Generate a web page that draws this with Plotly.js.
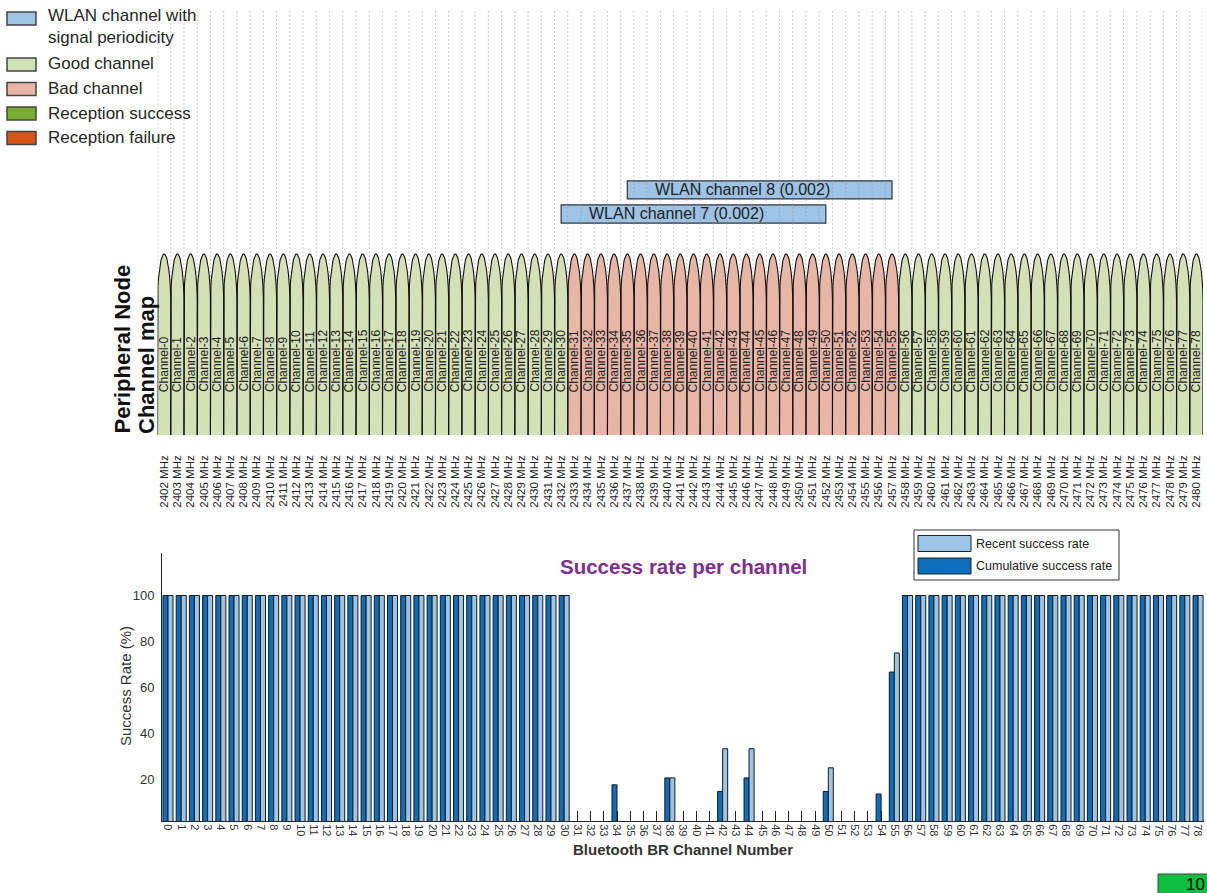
<!DOCTYPE html>
<html><head><meta charset="utf-8">
<script src="https://cdn.plot.ly/plotly-3.0.1.min.js"></script>
<style>html,body{margin:0;padding:0;background:#fff;overflow:hidden}</style>
</head><body><div id="chart" style="width:1207px;height:893px"></div>
<script>
// ---------------- DATA ----------------
const channels = [0,1,2,3,4,5,6,7,8,9,10,11,12,13,14,15,16,17,18,19,20,21,22,23,24,25,26,27,28,29,30,31,32,33,34,35,36,37,38,39,40,41,42,43,44,45,46,47,48,49,50,51,52,53,54,55,56,57,58,59,60,61,62,63,64,65,66,67,68,69,70,71,72,73,74,75,76,77,78];
const frequenciesMHz = [2402,2403,2404,2405,2406,2407,2408,2409,2410,2411,2412,2413,2414,2415,2416,2417,2418,2419,2420,2421,2422,2423,2424,2425,2426,2427,2428,2429,2430,2431,2432,2433,2434,2435,2436,2437,2438,2439,2440,2441,2442,2443,2444,2445,2446,2447,2448,2449,2450,2451,2452,2453,2454,2455,2456,2457,2458,2459,2460,2461,2462,2463,2464,2465,2466,2467,2468,2469,2470,2471,2472,2473,2474,2475,2476,2477,2478,2479,2480];
const channelStatus = [
 'good','good','good','good','good','good','good','good','good','good','good','good','good','good','good','good','good','good','good','good','good','good','good','good','good','good','good','good','good','good','good',
 'bad','bad','bad','bad','bad','bad','bad','bad','bad','bad','bad','bad','bad','bad','bad','bad','bad','bad','bad','bad','bad','bad','bad','bad','bad',
 'good','good','good','good','good','good','good','good','good','good','good','good','good','good','good','good','good','good','good','good','good','good','good'];
const cumulativeSuccess = [
 100,100,100,100,100,100,100,100,100,100,100,100,100,100,100,100,100,100,100,100,100,100,100,100,100,100,100,100,100,100,100,
 0,0,0,17.6,0,0,0,20.6,0,0,0,14.7,0,20.6,0,0,0,0,0,14.7,0,0,0,13.6,66.7,
 100,100,100,100,100,100,100,100,100,100,100,100,100,100,100,100,100,100,100,100,100,100,100];
const recentSuccess = [
 100,100,100,100,100,100,100,100,100,100,100,100,100,100,100,100,100,100,100,100,100,100,100,100,100,100,100,100,100,100,100,
 0,0,0,0,0,0,0,20.6,0,0,0,33.3,0,33.3,0,0,0,0,0,25.0,0,0,0,0,75.0,
 100,100,100,100,100,100,100,100,100,100,100,100,100,100,100,100,100,100,100,100,100,100,100];
const successTicks = [20,40,60,80,100];
const wlanChannels = [7, 8];
const wlanCentersMHz = [2442, 2447];
const wlanBandwidthMHz = [20, 20];
const wlanPeriodicity = ['0.002', '0.002'];
const mapLegendLabels = ['WLAN channel with<br>signal periodicity','Good channel','Bad channel','Reception success','Reception failure'];
const rateLegendLabels = ['Recent success rate','Cumulative success rate'];
const progressText = '10';

// ---------------- STYLE ----------------
const W = 1207, H = 893;
const FONT = 'Liberation Sans, Arial, Helvetica, sans-serif';
const C = {wlan:'#9DC3E6', good:'#D4E0B6', bad:'#E8B6A6', success:'#77AC30', failure:'#D95319',
           recent:'#9CC4E6', cumulative:'#0B6FBE', purple:'#7E2F8E'};
const mapLegendColors = [C.wlan, C.good, C.bad, C.success, C.failure];
const rateLegendColors = [C.recent, C.cumulative];
const px = v => v / W;
const py = v => 1 - v / H;

// top map geometry (arch base 0 -> 435px, arch top 1 -> 254px)
const TOP_Y_RANGE = [-0.0939, 2.348];
const SIDE = 0.75, EXP = 0.6;

function archPoints(f) {
  const xs = [f - 0.5], ys = [0];
  const N = 28;
  for (let i = 0; i <= N; i++) {
    const u = -1 + 2 * i / N;
    xs.push(f + 0.5 * u);
    ys.push(SIDE + (1 - SIDE) * Math.pow(Math.max(0, 1 - u * u), EXP));
  }
  xs.push(f + 0.5); ys.push(0);
  return [xs, ys];
}
function archTrace(status) {
  const xs = [], ys = [];
  channels.forEach((c, i) => {
    if (channelStatus[i] !== status) return;
    const [ax, ay] = archPoints(frequenciesMHz[i]);
    xs.push(...ax, null); ys.push(...ay, null);
  });
  return [xs, ys];
}

const traces = [];
// dotted grid at channel boundaries
const gx = [], gy = [];
frequenciesMHz.forEach((f, i) => {
  gx.push(f - 0.5, f - 0.5, null); gy.push(0.5, TOP_Y_RANGE[1], null);
  if (i === frequenciesMHz.length - 1) { gx.push(f + 0.5, f + 0.5, null); gy.push(0.5, TOP_Y_RANGE[1], null); }
});
traces.push({type:'scatter', mode:'lines', x:gx, y:gy, xaxis:'x', yaxis:'y',
  line:{color:'#9a9a9a', width:1, dash:'1px,3px'}, hoverinfo:'skip', showlegend:false});

['good','bad'].forEach(s => {
  const [xs, ys] = archTrace(s);
  traces.push({type:'scatter', mode:'lines', x:xs, y:ys, xaxis:'x', yaxis:'y', fill:'toself',
    fillcolor: s === 'good' ? C.good : C.bad, line:{width:0, color:'rgba(0,0,0,0)'}, hoverinfo:'skip', showlegend:false});
});
['good','bad'].forEach(s => {
  const [xs, ys] = archTrace(s);
  traces.push({type:'scatter', mode:'lines', x:xs, y:ys, xaxis:'x', yaxis:'y',
    line:{width:1.1, color:'#111'}, hoverinfo:'skip', showlegend:false});
});

// WLAN bars
const WLAN_ROW0 = 1.221, WLAN_STEP = 0.133;
const wlanRows = wlanChannels.map((c, i) => WLAN_ROW0 + i * WLAN_STEP);
traces.push({type:'bar', orientation:'h', xaxis:'x', yaxis:'y',
  y: wlanRows, x: wlanBandwidthMHz, base: wlanCentersMHz.map((c, i) => c - wlanBandwidthMHz[i] / 2),
  width: 0.1, marker:{color:C.wlan, line:{color:'#333', width:1.2}}, hoverinfo:'skip', showlegend:false});

// success-rate bars
traces.push({type:'bar', x:channels, y:cumulativeSuccess, xaxis:'x2', yaxis:'y2', name:'Cumulative success rate',
  marker:{color:C.cumulative, line:{color:'#1a1a1a', width:1}}, showlegend:false, hoverinfo:'skip'});
traces.push({type:'bar', x:channels, y:recentSuccess, xaxis:'x2', yaxis:'y2', name:'Recent success rate',
  marker:{color:C.recent, line:{color:'#1a1a1a', width:1}}, showlegend:false, hoverinfo:'skip'});

// ---------------- ANNOTATIONS & SHAPES ----------------
const annotations = [], shapes = [];
// channel labels
channels.forEach((c, i) => {
  annotations.push({xref:'x', yref:'y', x:frequenciesMHz[i], y:0.232, text:'Channel-' + c, showarrow:false,
    textangle:-90, xanchor:'center', yanchor:'bottom', font:{family:FONT, size:12, color:'#222'}, borderpad:0});
});
// WLAN labels
wlanChannels.forEach((w, i) => {
  annotations.push({xref:'x', yref:'y', x: wlanCentersMHz[i] - wlanBandwidthMHz[i] / 2 + 2, y: wlanRows[i],
    text:'WLAN channel ' + w + ' (' + wlanPeriodicity[i] + ')', showarrow:false, xanchor:'left', yanchor:'middle',
    font:{family:FONT, size:16, color:'#222'}, borderpad:0});
});
// top-left legend
const legendRowCenters = [18.5, 64.5, 89, 113.5, 138];
mapLegendLabels.forEach((lab, i) => {
  const cy = legendRowCenters[i];
  shapes.push({type:'rect', xref:'paper', yref:'paper', x0:px(7), x1:px(36), y0:py(cy + 6.5), y1:py(cy - 6.5),
    fillcolor:mapLegendColors[i], line:{color:'#444', width:1.5}});
  if (i === 0) {
    annotations.push({xref:'paper', yref:'paper', x:px(46), y:py(4), text:lab, showarrow:false, xanchor:'left', yanchor:'top',
      align:'left', font:{family:FONT, size:17, color:'#262626'}});
  } else {
    annotations.push({xref:'paper', yref:'paper', x:px(46), y:py(cy - 0.5), text:lab, showarrow:false, xanchor:'left', yanchor:'middle',
      align:'left', font:{family:FONT, size:17, color:'#262626'}});
  }
});
// map y title
annotations.push({xref:'paper', yref:'paper', x:px(122), y:py(436), text:'<b>Peripheral Node</b>', showarrow:false,
  textangle:-90, xanchor:'center', yanchor:'bottom', font:{family:FONT, size:22, color:'#111'}});
annotations.push({xref:'paper', yref:'paper', x:px(146), y:py(436), text:'<b>Channel map</b>', showarrow:false,
  textangle:-90, xanchor:'center', yanchor:'bottom', font:{family:FONT, size:22, color:'#111'}});
// success chart title / axis titles
annotations.push({xref:'paper', yref:'paper', x:px(683), y:py(566), text:'<b>Success rate per channel</b>', showarrow:false,
  xanchor:'center', yanchor:'middle', font:{family:FONT, size:20.5, color:C.purple}});
annotations.push({xref:'paper', yref:'paper', x:px(125), y:py(686), text:'Success Rate (%)', showarrow:false,
  textangle:-90, xanchor:'center', yanchor:'middle', font:{family:FONT, size:15, color:'#333'}});
annotations.push({xref:'paper', yref:'paper', x:px(683), y:py(849), text:'<b>Bluetooth BR Channel Number</b>', showarrow:false,
  xanchor:'center', yanchor:'middle', font:{family:FONT, size:15, color:'#333'}});
// success legend box
shapes.push({type:'rect', xref:'paper', yref:'paper', x0:px(914), x1:px(1119), y0:py(580), y1:py(530),
  fillcolor:'#fff', line:{color:'#333', width:1}});
const rateRowCenters = [543.5, 566];
rateLegendLabels.forEach((lab, i) => {
  const cy = rateRowCenters[i];
  shapes.push({type:'rect', xref:'paper', yref:'paper', x0:px(918), x1:px(971), y0:py(cy + 8), y1:py(cy - 8),
    fillcolor:rateLegendColors[i], line:{color:'#222', width:1}});
  annotations.push({xref:'paper', yref:'paper', x:px(974), y:py(cy), text:lab, showarrow:false, xanchor:'left', yanchor:'middle',
    font:{family:FONT, size:12.5, color:'#222'}});
});
// progress box bottom-right
shapes.push({type:'rect', xref:'paper', yref:'paper', x0:px(1158), x1:px(1230), y0:py(900), y1:py(874),
  fillcolor:'#0BC040', line:{color:'#444', width:1}});
annotations.push({xref:'paper', yref:'paper', x:px(1206), y:py(884), text:progressText, showarrow:false, xanchor:'right', yanchor:'middle',
  font:{family:FONT, size:17, color:'#000'}, borderpad:0});

const layout = {
  width:W, height:H, margin:{l:0, r:0, t:0, b:0}, paper_bgcolor:'#fff', plot_bgcolor:'rgba(0,0,0,0)',
  showlegend:false, barmode:'group', bargap:0.24, bargroupgap:0,
  xaxis:{domain:[px(157.5), px(1203)], range:[2401.5, 2480.5], anchor:'y', tickmode:'array',
    tickvals:frequenciesMHz, ticktext:frequenciesMHz.map(f => f + ' MHz'), tickangle:-90,
    tickfont:{family:FONT, size:11.5, color:'#222'}, showgrid:false, zeroline:false, showline:false, ticks:'', automargin:false},
  yaxis:{domain:[py(452), py(10)], range:TOP_Y_RANGE, anchor:'x', visible:false, showgrid:false, zeroline:false},
  xaxis2:{domain:[px(162), px(1204)], range:[-0.455, 78.45], anchor:'y2', tickmode:'array', tickvals:channels,
    ticktext:channels.map(String), tickangle:90, tickfont:{family:FONT, size:11, color:'#333'},
    ticks:'inside', ticklen:10, tickwidth:1, tickcolor:'#222', showline:true, linecolor:'#222', linewidth:1,
    layer:'below traces', showgrid:false, zeroline:false, automargin:false},
  yaxis2:{domain:[py(821), py(553)], range:[1.85, 118.5], anchor:'x2', tickmode:'array', tickvals:successTicks,
    tickfont:{family:FONT, size:13, color:'#333'}, showline:true, linecolor:'#222', linewidth:1, ticks:'',
    ticklabelstandoff:4, showgrid:false, zeroline:false, automargin:false},
  annotations, shapes
};

Plotly.newPlot('chart', traces, layout, {staticPlot:true, displayModeBar:false});
</script>
</body></html>
